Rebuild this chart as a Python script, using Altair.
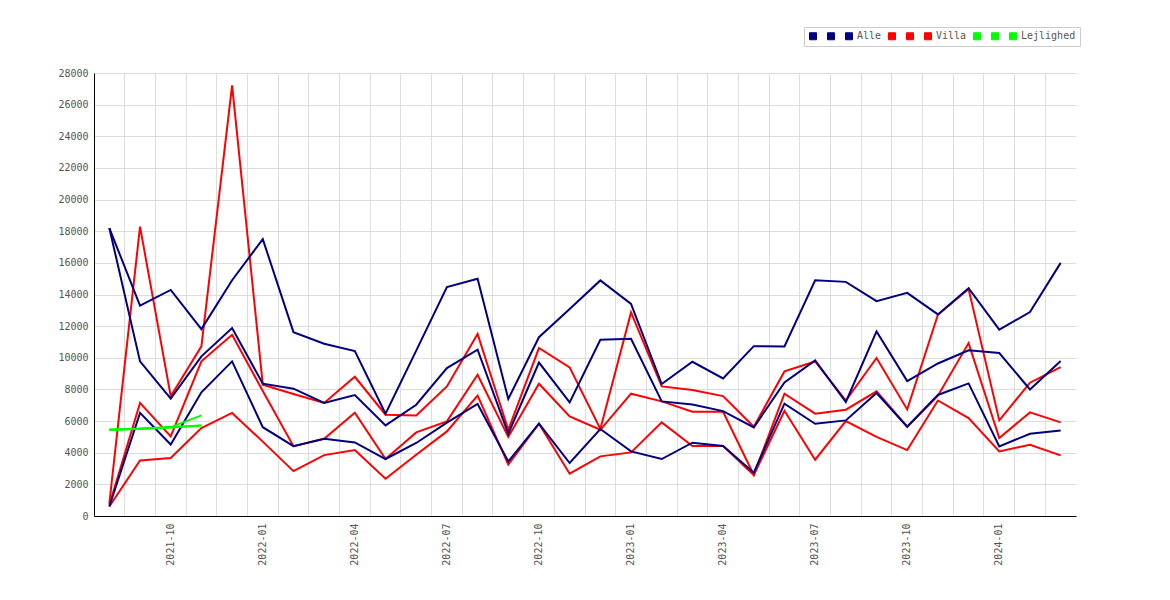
import altair as alt
import pandas as pd

months = [
    "2021-08", "2021-09", "2021-10", "2021-11", "2021-12",
    "2022-01", "2022-02", "2022-03", "2022-04", "2022-05", "2022-06",
    "2022-07", "2022-08", "2022-09", "2022-10", "2022-11", "2022-12",
    "2023-01", "2023-02", "2023-03", "2023-04", "2023-05", "2023-06",
    "2023-07", "2023-08", "2023-09", "2023-10", "2023-11", "2023-12",
    "2024-01", "2024-02", "2024-03",
]

alle_1 = [18200, 13300, 14290, 11810, 14900, 17500, 11620, 10890, 10420, 6466,
          10450, 14470, 15000, 7400, 11300, 13080, 14890, 13400, 8340, 9746,
          8693, 10735, 10720, 14900, 14798, 13577, 14103, 12740, 14400, 11775,
          12890, 16000]
alle_2 = [18200, 9774, 7420, 10090, 11876, 8366, 8050, 7147, 7641, 5727,
          7034, 9350, 10510, 5200, 9700, 7180, 11143, 11200, 7243, 7052,
          6630, 5600, 8444, 9834, 7205, 11667, 8525, 9641, 10470, 10300,
          8000, 9800]
alle_3 = [600, 6516, 4519, 7820, 9774, 5612, 4414, 4877, 4652, 3602,
          4614, 5900, 7078, 3450, 5833, 3349, 5500, 4084, 3602, 4631,
          4420, 2736, 7098, 5833, 6043, 7773, 5641, 7650, 8380, 4400,
          5200, 5410]

villa_1 = [800, 18290, 7567, 10720, 27220, 8303, 7714, 7147, 8800, 6403,
           6360, 8191, 11500, 5450, 10617, 9393, 5497, 12870, 8190, 7957,
           7578, 5641, 9140, 9770, 7300, 9986, 6736, 12720, 14345, 6043,
           8424, 9416]
villa_2 = [700, 7147, 5031, 9774, 11456, 7900, 4414, 4877, 6526, 3602,
           5284, 5979, 8930, 5000, 8361, 6297, 5450, 7730, 7243, 6589,
           6589, 2600, 7730, 6466, 6718, 7877, 5641, 7600, 10930, 4928,
           6550, 5918]
villa_3 = [600, 3510, 3666, 5562, 6516, 4700, 2838, 3847, 4168, 2357,
           3874, 5347, 7603, 3250, 5833, 2673, 3770, 4020, 5916, 4420,
           4420, 2589, 6655, 3558, 6000, 5000, 4168, 7300, 6190, 4084,
           4506, 3832]

lejl_1 = [5450, 5520, 5620, 6360]
lejl_2 = [5450, 5520, 5600, 5720]
lejl_3 = [5450, 5520, 5610, 5720]

series_names = ["a1", "a2", "Alle", "v1", "v2", "Villa", "l1", "l2", "Lejlighed"]
series_groups = ["Alle"] * 3 + ["Villa"] * 3 + ["Lejlighed"] * 3
series_values = [alle_1, alle_2, alle_3, villa_1, villa_2, villa_3, lejl_1, lejl_2, lejl_3]
series_colors = ["#000080"] * 3 + ["#ff0000"] * 3 + ["#00ff00"] * 3

rows = []
for name, grp, vals in zip(series_names, series_groups, series_values):
    for m, v in zip(months, vals):
        rows.append({"month": m, "value": v, "series": name, "group": grp})
df = pd.DataFrame(rows)

FONT = "DejaVu Sans Mono"

x_axis = alt.Axis(
    bandPosition=0,
    labelAngle=270,
    labelExpr="test(/-(01|04|07|10)$/, datum.label) ? datum.label : ''",
    ticks=False,
    tickSize=0,
    labelPadding=7,
    grid=True,
    gridColor="#dddddd",
    domainColor="#000000",
    labelFont=FONT,
    labelFontSize=10,
    labelColor="#555555",
)
x_scale = alt.Scale(type="band", domain=months, paddingInner=0, paddingOuter=0)
y_axis = alt.Axis(
    values=list(range(0, 28001, 2000)),
    format="d",
    ticks=False,
    tickSize=0,
    labelPadding=6,
    grid=True,
    gridColor="#dddddd",
    domainColor="#000000",
    labelFont=FONT,
    labelFontSize=10,
    labelColor="#555555",
)
y_scale = alt.Scale(domain=[0, 28000], nice=False)

legend_props = dict(
    title=None,
    orient="none",
    legendX=710,
    legendY=-46,
    direction="horizontal",
    symbolType="square",
    symbolSize=49,
    symbolStrokeColor="#555555",
    symbolStrokeWidth=1,
    symbolOpacity=1,
    labelFont=FONT,
    labelFontSize=10,
    labelColor="#555555",
    labelOffset=3,
    columnPadding=4,
    padding=4,
    strokeColor="#cccccc",
    labelExpr="indexof(['Alle','Villa','Lejlighed'], datum.label) >= 0 ? datum.label : ' '",
)

color_enc = alt.Color(
    "series:N",
    scale=alt.Scale(domain=series_names, range=series_colors),
    legend=alt.Legend(**legend_props),
)
fill_enc = alt.Fill(
    "series:N",
    scale=alt.Scale(domain=series_names, range=series_colors),
    legend=alt.Legend(**legend_props),
)

base = alt.Chart(df).mark_line(strokeWidth=2).encode(
    x=alt.X("month:O", sort=months, title=None, scale=x_scale, axis=x_axis),
    y=alt.Y("value:Q", title=None, scale=y_scale, axis=y_axis),
    color=color_enc,
)

villa_layer = base.transform_filter(alt.datum.group == "Villa")
alle_layer = base.transform_filter(alt.datum.group == "Alle")
lejl_layer = base.transform_filter(alt.datum.group == "Lejlighed")

# legend-only layer (filled squares for the legend), its marks fall outside the clipped plot
legend_layer = (
    alt.Chart(df)
    .transform_calculate(hidden="-20000")
    .mark_square(filled=True, stroke="#555555", strokeWidth=1, clip=True)
    .encode(
        x=alt.X("month:O", sort=months, title=None, scale=x_scale, axis=x_axis),
        y=alt.Y("hidden:Q", title=None, scale=y_scale, axis=y_axis),
        fill=fill_enc,
    )
)

chart = (
    alt.layer(villa_layer, alle_layer, lejl_layer, legend_layer)
    .properties(
        width=982,
        height=443,
        autosize=alt.AutoSizeParams(type="none"),
        padding={"left": 86, "top": 65, "right": 80, "bottom": 70},
        background="#ffffff",
    )
    .configure_view(strokeWidth=0)
)

chart.save("out.html", embed_options={"renderer": "svg", "actions": False})
